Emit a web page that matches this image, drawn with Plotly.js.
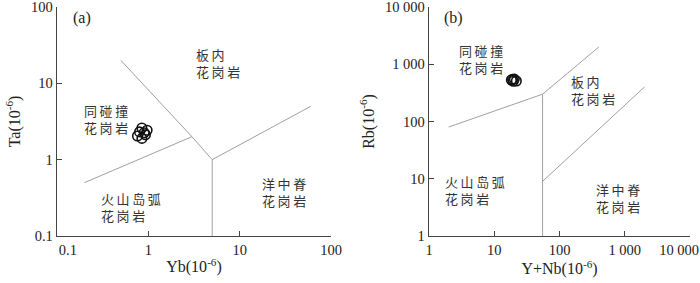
<!DOCTYPE html>
<html>
<head>
<meta charset="utf-8">
<script src="https://cdn.plot.ly/plotly-3.0.1.min.js"></script>
<style>html,body{margin:0;padding:0;background:#fff}#chart{width:700px;height:283px}</style>
</head>
<body>
<div id="chart"></div>
<script>
// Panel (a): Ta vs Yb
const sampleYb = [0.85, 0.97, 0.76, 0.85, 0.93, 0.80, 0.90];
const sampleTa = [2.6, 2.43, 2.04, 1.9, 2.12, 2.31, 2.25];
// Panel (b): Rb vs Y+Nb
const sampleYNb = [18.3, 20.3, 21.8, 19.6, 19.0];
const sampleRb = [530, 550, 510, 505, 545];

// Boundary lines (a)
const aLine1X = [0.5, 3, 5];   const aLine1Y = [20, 2, 1];
const aLine2X = [0.2, 3];      const aLine2Y = [0.5, 2];
const aLine3X = [5, 5];        const aLine3Y = [1, 0.1];
const aLine4X = [5, 60];       const aLine4Y = [1, 5];
// Boundary lines (b)
const bLine1X = [2, 55, 400];  const bLine1Y = [80, 300, 2000];
const bLine2X = [55, 55];      const bLine2Y = [300, 1];
const bLine3X = [55, 2000];    const bLine3Y = [9, 400];

const aTickVals = [0.1, 1, 10, 100];
const aTickTextX = ['\u2007\u2007\u20070.1', '1', '10', '100'];
const aTickTextY = ['0.1', '1', '10', '100'];
const bTickVals = [1, 10, 100, 1000, 10000];
const bTickTextX = ['1', '10', '100', '1 000', '10 000\u2007\u2007\u2007'];
const bTickTextY = ['1', '10', '100', '1 000', '10 000'];

const fieldNames = ['板内', '同碰撞', '火山岛弧', '洋中脊'];
const fieldSuffix = '花岗岩';

const sp = s => s.split('').join('\u2009');
const lineStyle = {color: '#a0a0a0', width: 1};
const mk = {symbol: 'circle-open', size: 9.5, color: '#111', line: {width: 1.6, color: '#111'}};

function seg(x, y, xa, ya) {
  return {x: x, y: y, xaxis: xa, yaxis: ya, mode: 'lines', line: lineStyle, hoverinfo: 'skip', showlegend: false};
}

const traces = [
  seg(aLine1X, aLine1Y, 'x', 'y'), seg(aLine2X, aLine2Y, 'x', 'y'),
  seg(aLine3X, aLine3Y, 'x', 'y'), seg(aLine4X, aLine4Y, 'x', 'y'),
  seg(bLine1X, bLine1Y, 'x2', 'y2'), seg(bLine2X, bLine2Y, 'x2', 'y2'),
  seg(bLine3X, bLine3Y, 'x2', 'y2'),
  {x: sampleYb, y: sampleTa, xaxis: 'x', yaxis: 'y', mode: 'markers', marker: mk, showlegend: false},
  {x: sampleYNb, y: sampleRb, xaxis: 'x2', yaxis: 'y2', mode: 'markers', marker: mk, showlegend: false}
];

const tickFont = {family: 'Liberation Serif', size: 14.5, color: '#222'};
const titleFont = {family: 'Liberation Serif', size: 16, color: '#222'};
const axisBase = {
  type: 'log', showgrid: false, zeroline: false, showline: true, linecolor: '#444', linewidth: 1.3,
  ticks: 'inside', ticklen: 5, tickcolor: '#444', tickwidth: 1.2, tickfont: tickFont,
  tickmode: 'array', fixedrange: true, ticklabeloverflow: 'allow'
};

const cjk = {family: 'Noto Sans CJK SC', size: 13, color: '#333'};
function label(name, xref, yref, lx, ly) {
  return {text: sp(name) + '<br>' + sp(fieldSuffix), xref: xref, yref: yref, x: lx, y: ly,
    xanchor: 'left', yanchor: 'middle', align: 'left', showarrow: false, font: cjk};
}

const layout = {
  width: 700, height: 283,
  margin: {l: 57, r: 10, t: 7, b: 47},
  paper_bgcolor: '#fff', plot_bgcolor: '#fff',
  xaxis: Object.assign({}, axisBase, {domain: [0, 0.4329], range: [-1, 2], tickvals: aTickVals, ticktext: aTickTextX,
    title: {text: 'Yb(10<sup>-6</sup>)', font: titleFont, standoff: 4}, anchor: 'y'}),
  yaxis: Object.assign({}, axisBase, {domain: [0, 1], range: [-1, 2], tickvals: aTickVals, ticktext: aTickTextY,
    title: {text: 'Ta(10<sup>-6</sup>)', font: titleFont, standoff: 6}, anchor: 'x'}),
  xaxis2: Object.assign({}, axisBase, {domain: [0.5877, 1], range: [0, 4], tickvals: bTickVals, ticktext: bTickTextX,
    title: {text: 'Y+Nb(10<sup>-6</sup>)', font: titleFont, standoff: 4}, anchor: 'y2'}),
  yaxis2: Object.assign({}, axisBase, {domain: [0, 1], range: [0, 4], tickvals: bTickVals, ticktext: bTickTextY,
    title: {text: 'Rb(10<sup>-6</sup>)', font: titleFont, standoff: 6}, anchor: 'x2'}),
  annotations: [
    {text: '(a)', xref: 'x domain', yref: 'y domain', x: 0.05, y: 1.0, xanchor: 'left', yanchor: 'top',
     showarrow: false, font: {family: 'Liberation Serif', size: 16, color: '#222'}},
    {text: '(b)', xref: 'x2 domain', yref: 'y2 domain', x: 0.05, y: 1.0, xanchor: 'left', yanchor: 'top',
     showarrow: false, font: {family: 'Liberation Serif', size: 16, color: '#222'}},
    label(fieldNames[0], 'x', 'y', 0.495, 1.265),
    label(fieldNames[1], 'x', 'y', -0.725, 0.532),
    label(fieldNames[2], 'x', 'y', -0.538, -0.614),
    label(fieldNames[3], 'x', 'y', 1.22, -0.427),
    label(fieldNames[1], 'x2', 'y2', 0.431, 3.086),
    label(fieldNames[0], 'x2', 'y2', 2.138, 2.543),
    label(fieldNames[2], 'x2', 'y2', 0.215, 0.802),
    label(fieldNames[3], 'x2', 'y2', 2.523, 0.664)
  ]
};

Plotly.newPlot('chart', traces, layout, {staticPlot: true, displayModeBar: false});
</script>
</body>
</html>
